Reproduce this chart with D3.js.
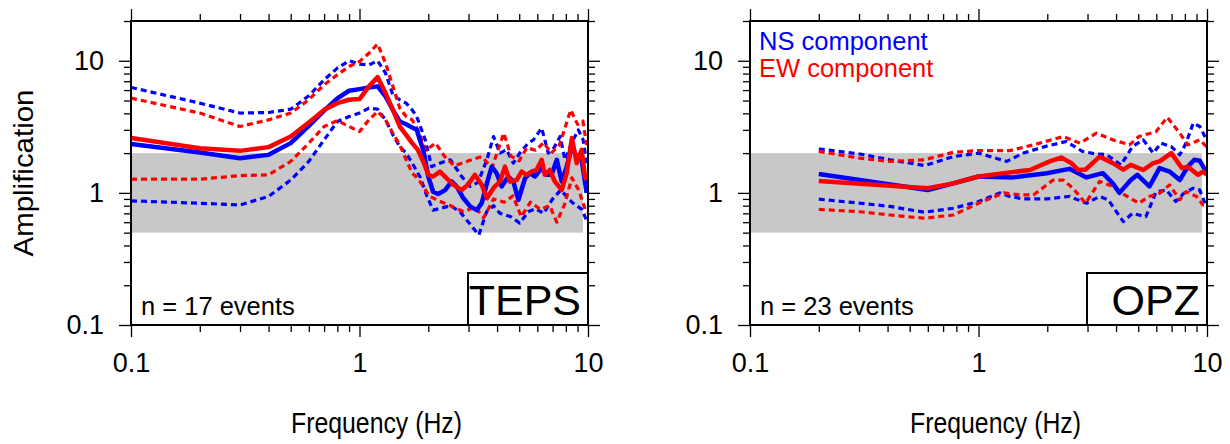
<!DOCTYPE html>
<html>
<head>
<meta charset="utf-8">
<script src="https://cdn.jsdelivr.net/npm/d3@7"></script>
<style>
body { margin: 0; background: #fff; }
svg { display: block; font-family: "Liberation Sans", Arial, Helvetica, sans-serif; }
</style>
</head>
<body>
<svg id="chart" width="1230" height="444"></svg>
<script>
// frequency (Hz), amplification pairs
var tepsNsMean = [[0.1,2.35],[0.2,2.02],[0.3,1.83],[0.4,1.94],[0.5,2.38],[0.6,3.22],[0.7,4.2],[0.8,5.2],[0.9,5.93],[1.0,6.1],[1.1,6.28],[1.2,6.4],[1.3,5.37],[1.4,4.25],[1.5,3.47],[1.6,3.31],[1.7,3.12],[1.78,3.0],[1.84,2.5],[1.9,2.12],[2.0,1.33],[2.1,1.02],[2.21,0.98],[2.37,1.05],[2.53,1.22],[2.66,1.12],[2.85,0.91],[3.05,0.79],[3.26,0.74],[3.43,0.84],[3.61,1.18],[3.79,1.58],[3.98,1.41],[4.19,1.12],[4.48,1.33],[4.71,1.22],[4.96,0.885],[5.3,1.29],[5.57,1.41],[5.86,1.33],[6.27,1.54],[6.59,1.37],[6.93,1.37],[7.3,1.78],[7.67,1.22],[8.07,1.58],[8.5,2.24],[8.93,1.88],[9.38,1.78],[9.86,1.0]];
var tepsEwMean = [[0.1,2.6],[0.2,2.18],[0.3,2.08],[0.4,2.22],[0.5,2.67],[0.6,3.41],[0.7,4.25],[0.8,4.78],[0.9,5.07],[1.0,5.13],[1.1,6.4],[1.2,7.52],[1.3,5.69],[1.4,4.25],[1.5,3.18],[1.6,2.75],[1.7,2.38],[1.8,2.12],[1.9,1.73],[2.0,1.37],[2.1,1.33],[2.25,1.45],[2.41,1.29],[2.58,1.15],[2.8,1.05],[2.98,1.15],[3.2,1.37],[3.43,1.15],[3.61,0.91],[3.86,1.09],[4.12,1.22],[4.33,1.58],[4.55,1.22],[4.87,1.25],[5.12,1.45],[5.38,1.37],[5.66,1.45],[5.95,1.49],[6.27,1.78],[6.47,1.37],[6.8,1.49],[7.16,1.22],[7.67,1.05],[8.07,1.41],[8.5,2.6],[8.93,1.68],[9.38,2.12],[9.7,1.33],[9.86,1.25]];
var tepsNsHigh = [[0.1,6.28],[0.2,4.78],[0.3,4.02],[0.4,4.06],[0.5,4.3],[0.6,5.43],[0.7,7.18],[0.8,8.8],[0.9,10.0],[1.0,9.44],[1.1,9.3],[1.2,10.0],[1.3,8.07],[1.4,5.5],[1.5,5.07],[1.6,4.78],[1.7,4.25],[1.78,3.78],[1.94,2.52],[2.07,1.58],[2.25,1.68],[2.5,1.78],[2.8,1.33],[3.05,1.12],[3.3,1.2],[3.61,1.78],[3.86,2.67],[4.12,2.0],[4.4,2.12],[4.71,1.68],[5.03,2.0],[5.47,2.38],[5.77,2.52],[6.27,3.09],[6.7,2.0],[7.1,2.2],[7.55,2.67],[7.93,1.78],[8.5,2.4],[9.07,3.0],[9.52,2.52],[9.86,1.68]];
var tepsNsLow = [[0.1,0.87],[0.2,0.835],[0.3,0.81],[0.4,0.94],[0.5,1.25],[0.6,1.73],[0.7,2.52],[0.8,3.47],[0.9,3.78],[1.0,4.02],[1.1,4.38],[1.2,4.3],[1.3,3.57],[1.4,2.75],[1.5,2.24],[1.6,2.0],[1.7,1.68],[1.85,1.3],[1.97,0.95],[2.1,0.74],[2.3,0.77],[2.5,0.8],[2.75,0.72],[3.0,0.6],[3.33,0.48],[3.6,0.72],[3.86,0.8],[4.12,0.7],[4.6,0.66],[5.03,0.59],[5.47,0.72],[5.9,0.76],[6.4,0.7],[7.0,0.9],[7.6,1.05],[8.5,0.85],[9.4,0.75],[9.86,0.62]];
var tepsEwHigh = [[0.1,5.22],[0.2,4.02],[0.3,3.18],[0.4,3.57],[0.5,4.02],[0.6,5.07],[0.7,6.58],[0.8,7.83],[0.9,9.06],[1.0,9.88],[1.1,11.4],[1.2,13.4],[1.3,9.6],[1.4,6.4],[1.5,4.38],[1.6,3.78],[1.7,3.57],[1.8,3.0],[1.95,2.1],[2.15,2.38],[2.35,1.9],[2.6,1.6],[3.0,1.75],[3.43,1.88],[3.8,1.55],[4.28,2.83],[4.6,1.9],[5.0,1.75],[5.4,2.2],[5.9,2.1],[6.4,2.4],[6.9,2.0],[7.5,2.3],[8.4,4.25],[9.0,3.3],[9.5,3.5],[9.86,2.3]];
var tepsEwLow = [[0.1,1.27],[0.2,1.27],[0.3,1.35],[0.4,1.37],[0.5,1.73],[0.6,2.38],[0.7,3.18],[0.8,3.53],[0.9,3.18],[1.0,2.91],[1.1,3.57],[1.2,4.13],[1.3,3.57],[1.4,2.83],[1.5,2.31],[1.6,1.78],[1.7,1.41],[1.8,1.29],[2.03,0.94],[2.3,0.85],[2.5,0.8],[2.85,0.72],[3.2,0.78],[3.5,0.65],[3.86,0.9],[4.3,0.85],[4.7,0.95],[5.1,0.66],[5.6,0.85],[6.2,0.75],[6.8,0.8],[7.3,0.6],[7.9,0.82],[8.5,1.3],[9.1,1.05],[9.86,0.7]];

var opzNsMean = [[0.2,1.39],[0.6,1.05],[0.776,1.18],[1.0,1.33],[1.42,1.31],[1.99,1.41],[2.5,1.52],[2.97,1.31],[3.5,1.41],[3.87,1.18],[4.14,1.0],[4.64,1.25],[4.96,1.37],[5.6,1.12],[6.2,1.54],[6.86,1.45],[7.6,1.25],[8.25,1.58],[8.8,1.78],[9.3,1.75],[9.8,1.5],[10,1.52]];
var opzEwMean = [[0.2,1.23],[0.6,1.085],[0.776,1.18],[1.0,1.33],[1.37,1.43],[1.68,1.49],[2.05,1.73],[2.3,1.85],[2.55,1.68],[2.73,1.49],[2.94,1.5],[3.39,1.88],[3.87,1.68],[4.3,1.5],[4.64,1.63],[5.26,1.49],[5.82,1.68],[6.2,1.73],[6.98,2.0],[7.77,1.54],[8.25,1.58],[9.13,1.37],[9.6,1.45],[10,1.37]];
var opzNsHigh = [[0.2,2.15],[0.303,1.97],[0.41,1.78],[0.58,1.61],[0.776,1.88],[1.0,2.0],[1.33,1.73],[1.57,2.0],[1.95,2.24],[2.42,2.45],[2.85,2.06],[3.28,1.97],[3.63,1.95],[4.2,1.63],[4.72,2.24],[5.26,2.52],[5.82,2.0],[6.3,2.38],[6.98,2.24],[7.6,1.94],[8.1,2.38],[8.7,3.37],[9.3,3.18],[9.96,2.52]];
var opzNsLow = [[0.2,0.896],[0.303,0.835],[0.41,0.79],[0.58,0.714],[0.776,0.765],[1.0,0.86],[1.24,1.0],[1.37,0.94],[1.57,0.9],[1.99,0.9],[2.5,0.94],[2.97,0.835],[3.39,0.94],[3.7,0.885],[4.3,0.606],[4.72,0.7],[5.4,0.66],[5.99,1.02],[6.65,1.05],[7.3,0.86],[7.93,0.995],[8.7,1.085],[9.3,1.05],[9.8,0.835]];
var opzEwHigh = [[0.2,2.06],[0.303,1.83],[0.41,1.73],[0.58,1.78],[0.776,2.03],[1.0,2.09],[1.37,2.09],[1.74,2.31],[2.35,2.67],[2.78,2.38],[3.28,2.83],[3.87,2.52],[4.58,2.31],[5.03,2.67],[5.99,2.91],[6.7,3.74],[7.6,2.83],[8.25,2.31],[9.3,2.52],[9.96,2.24]];
var opzEwLow = [[0.2,0.75],[0.303,0.72],[0.41,0.68],[0.58,0.643],[0.776,0.68],[1.0,0.835],[1.29,1.0],[1.52,0.965],[1.74,0.965],[2.12,1.25],[2.35,1.25],[2.59,1.085],[2.94,0.835],[3.39,1.22],[3.87,1.12],[4.36,0.965],[5.03,0.835],[5.6,0.94],[6.2,0.995],[6.86,1.15],[7.6,0.885],[8.1,1.02],[9.0,0.94],[9.6,0.81],[9.96,0.8]];

var majorTicks = [0.1, 1, 10];
var minorXTicks = [0.2,0.3,0.4,0.5,0.6,0.7,0.8,0.9,2,3,4,5,6,7,8,9];
var minorYTicks = minorXTicks.concat([20]);
var bandAmp = [0.5, 2];
var bandFreq = [0.1, 9.5];

var svg = d3.select("#chart");

var y = d3.scaleLog().domain([0.1, 20]).range([325, 21]);

function fmt(d) { return String(d); }

function drawPanel(o) {
    var x = d3.scaleLog().domain([0.1, 10]).range(o.range);
    var g = svg.append("g");
    var id = "clip" + o.range[0];

    g.append("clipPath").attr("id", id)
      .append("rect")
        .attr("x", x(0.1)).attr("y", y(20))
        .attr("width", x(10) - x(0.1)).attr("height", y(0.1) - y(20));

    // gray band
    g.append("rect")
        .attr("x", x(bandFreq[0]))
        .attr("y", y(bandAmp[1]))
        .attr("width", x(bandFreq[1]) - x(bandFreq[0]))
        .attr("height", y(bandAmp[0]) - y(bandAmp[1]))
        .attr("fill", "#c8c8c8");

    var line = d3.line().x(function(d) { return x(d[0]); }).y(function(d) { return y(d[1]); });

    var lines = g.append("g").attr("clip-path", "url(#" + id + ")");
    var series = [
        {d: o.nsHigh, c: "#0000ff", dash: true},
        {d: o.nsLow, c: "#0000ff", dash: true},
        {d: o.ewHigh, c: "#ff0000", dash: true},
        {d: o.ewLow, c: "#ff0000", dash: true},
        {d: o.nsMean, c: "#0000ff", dash: false},
        {d: o.ewMean, c: "#ff0000", dash: false}
    ];
    lines.selectAll("path").data(series).enter().append("path")
        .attr("d", function(s) { return line(s.d); })
        .attr("fill", "none")
        .attr("stroke", function(s) { return s.c; })
        .attr("stroke-width", function(s) { return s.dash ? 3.2 : 4.5; })
        .attr("stroke-dasharray", function(s) { return s.dash ? "6,4" : null; })
        .attr("stroke-linejoin", "round");

    // axes: major + minor, all four sides
    function ax(axis, tr, vals, size, labels) {
        var a = axis.tickValues(vals).tickSizeInner(size).tickSizeOuter(0)
            .tickPadding(labels ? 15 : 0)
            .tickFormat(labels ? fmt : "");
        var gg = g.append("g").attr("transform", tr).call(a);
        gg.select(".domain").remove();
        gg.selectAll("line").attr("stroke", "#000").attr("stroke-width", 1.3);
        gg.style("font-size", "27px").style("font-family", null);
        gg.selectAll("text").attr("fill", "#000");
        return gg;
    }
    var bx = ax(d3.axisBottom(x), "translate(0," + y(0.1) + ")", majorTicks, 12, true);
    bx.selectAll("text").attr("y", 28);
    ax(d3.axisBottom(x), "translate(0," + y(0.1) + ")", minorXTicks, 7, false);
    ax(d3.axisTop(x), "translate(0," + y(20) + ")", majorTicks, 12, false);
    ax(d3.axisTop(x), "translate(0," + y(20) + ")", minorXTicks, 7, false);
    ax(d3.axisLeft(y), "translate(" + x(0.1) + ",0)", majorTicks, 12, true);
    ax(d3.axisLeft(y), "translate(" + x(0.1) + ",0)", minorYTicks, 7, false);
    ax(d3.axisRight(y), "translate(" + x(10) + ",0)", majorTicks, 12, false);
    ax(d3.axisRight(y), "translate(" + x(10) + ",0)", minorYTicks, 7, false);

    // frame
    g.append("rect")
        .attr("x", x(0.1)).attr("y", y(20))
        .attr("width", x(10) - x(0.1)).attr("height", y(0.1) - y(20))
        .attr("fill", "none").attr("stroke", "#000").attr("stroke-width", 2);

    // station box
    g.append("rect")
        .attr("x", x(10) - 120).attr("y", y(0.1) - 52)
        .attr("width", 120).attr("height", 52)
        .attr("fill", "#fff").attr("stroke", "#000").attr("stroke-width", 2);
    g.append("text")
        .attr("x", x(10) - 7).attr("y", y(0.1) - 10)
        .attr("text-anchor", "end").attr("font-size", 43)
        .text(o.station);

    g.append("text")
        .attr("x", x(0.1) + 10).attr("y", y(0.1) - 10)
        .attr("font-size", 25.5)
        .text(o.events);

    g.append("text")
        .attr("x", (o.range[0] + o.range[1]) / 2 + 17).attr("y", 433)
        .attr("text-anchor", "middle").attr("font-size", 29)
        .attr("textLength", 171).attr("lengthAdjust", "spacingAndGlyphs")
        .text("Frequency (Hz)");

    if (o.legend) {
        g.append("text").attr("x", x(0.1) + 9).attr("y", 50)
            .attr("font-size", 25.5).attr("fill", "#0000ff").text("NS component");
        g.append("text").attr("x", x(0.1) + 9).attr("y", 77)
            .attr("font-size", 25.5).attr("fill", "#ff0000").text("EW component");
    }
}

drawPanel({range: [131, 588], station: "TEPS", events: "n = 17 events",
    nsMean: tepsNsMean, ewMean: tepsEwMean, nsHigh: tepsNsHigh, nsLow: tepsNsLow,
    ewHigh: tepsEwHigh, ewLow: tepsEwLow, legend: false});
drawPanel({range: [750, 1207], station: "OPZ", events: "n = 23 events",
    nsMean: opzNsMean, ewMean: opzEwMean, nsHigh: opzNsHigh, nsLow: opzNsLow,
    ewHigh: opzEwHigh, ewLow: opzEwLow, legend: true});

svg.append("text")
    .attr("transform", "translate(33,173) rotate(-90)")
    .attr("text-anchor", "middle").attr("font-size", 28)
    .attr("textLength", 167).attr("lengthAdjust", "spacingAndGlyphs")
    .text("Amplification");
</script>
</body>
</html>
